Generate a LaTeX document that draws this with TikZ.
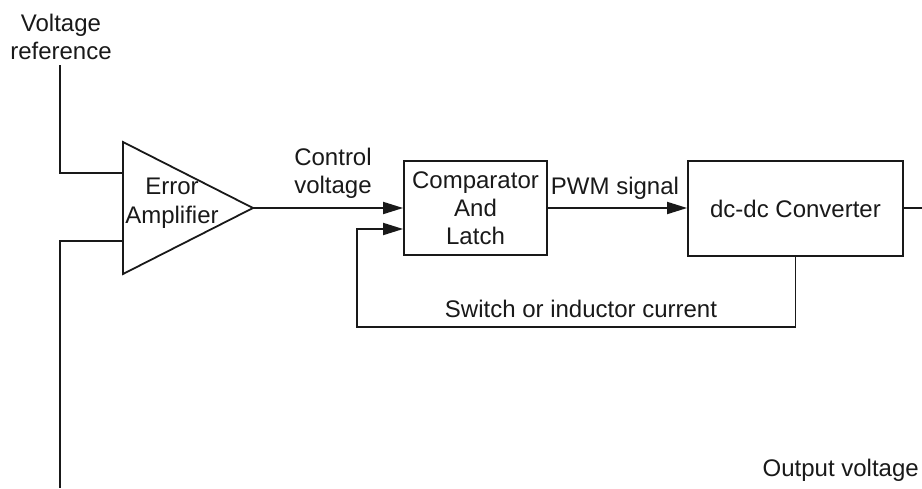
\documentclass[tikz,border=0pt]{standalone}
\usepackage{fontspec}
\setmainfont{Liberation Sans}
\usetikzlibrary{arrows.meta}
\begin{document}
\begin{tikzpicture}[x=1pt,y=-1pt,
  wire/.style={line width=1.8pt,draw=black!90},
  arr/.style={wire,-{Triangle[length=20pt,width=12pt]}},
  lbl/.style={font=\fontsize{24pt}{28pt}\selectfont,text=black!90,inner sep=0pt,anchor=base},
  blk/.style={draw=black!90,line width=1.8pt,inner sep=0pt,font=\fontsize{24pt}{28pt}\selectfont,align=center,text=black!90}]
\useasboundingbox (0,0) rectangle (922,488);
% labels
\node[lbl] (vref1) at (61,31) {Voltage};
\node[lbl] (vref2) at (61,59) {reference};
\node[lbl] (ctl1) at (333,165) {Control};
\node[lbl] (ctl2) at (333,193) {voltage};
\node[lbl] (pwm) at (615,194) {PWM signal};
\node[lbl] (sw) at (581,317) {Switch or inductor current};
\node[lbl,anchor=base east] (vo) at (919,476) {Output voltage};
% error amplifier
\draw[wire,line join=miter] (123,142) -- (253,208) -- (123,274) -- cycle;
\node[lbl] (ea1) at (172,194) {Error};
\node[lbl] (ea2) at (172,223) {Amplifier};
\coordinate (ampin1) at (123,173);
\coordinate (ampin2) at (123,241);
\coordinate (ampout) at (253,208);
% blocks
\node[blk,minimum width=143pt,minimum height=94pt] (cmp) at (475.5,208) {Comparator\\And\\Latch};
\node[blk,minimum width=215pt,minimum height=95pt] (dc) at (795.5,208.5) {dc-dc Converter};
% coordinates
\coordinate (vreftop) at (60,65);
\coordinate (vrefc) at (60,173);
\coordinate (fbin) at (60,241);
\coordinate (fbend) at (60,488);
\coordinate (outend) at (922,208);
\coordinate (fbc) at (357,327);
% connectors
\draw[wire] (vreftop) -- (vrefc) -- (ampin1);
\draw[wire] (ampin2) -- (fbin) -- (fbend);
\draw[arr] (ampout) -- (cmp.west);
\draw[arr] (cmp.east) -- (dc.west |- cmp.east);
\draw[wire] (dc.east |- outend) -- (outend);
\draw[arr] (dc.south) |- (fbc) |- ([yshift=-21pt]cmp.west);
\end{tikzpicture}
\end{document}
